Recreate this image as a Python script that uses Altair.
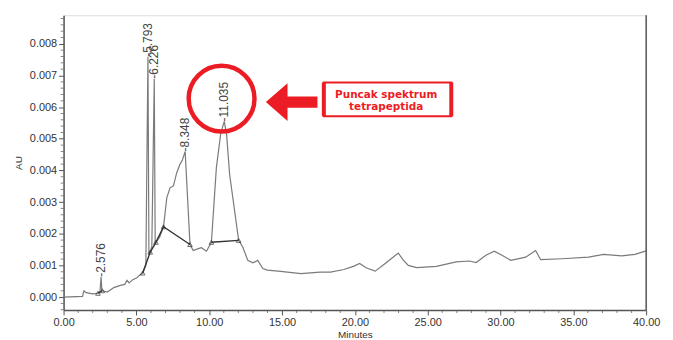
import altair as alt
import pandas as pd

# chromatogram trace (minutes, AU)
trace_t = [0.0, 1.3, 1.4, 1.55, 2.0, 2.36, 2.5, 2.576, 2.63, 2.66, 3.0, 3.45, 3.9, 4.2, 4.36, 4.5,
           4.75, 5.0, 5.2, 5.43, 5.65, 5.793, 5.86, 5.95, 6.06, 6.226, 6.29, 6.34, 6.6, 6.86,
           7.09, 7.31, 7.54, 7.77, 8.0, 8.15, 8.348, 8.68, 8.9, 9.25, 9.47, 9.81, 10.15, 10.49,
           10.8, 11.035, 11.2, 11.4, 12.02, 12.3, 12.65, 13.0, 13.33, 13.68, 14.0, 14.9, 16.3,
           17.6, 18.33, 19.24, 19.9, 20.33, 20.8, 21.4, 22.08, 22.6, 22.98, 23.3, 23.67, 24.24,
           25.6, 26.96, 27.87, 28.33, 29.0, 29.57, 30.1, 30.71, 31.73, 32.41, 32.76, 34.23,
           36.05, 37.07, 38.32, 39.23, 40.0]
trace_au = [0.0, 0.00002, 0.0002, 0.00014, 0.0001, 0.00012, 0.00018, 0.00064, 0.0002, 0.0002,
            0.00016, 0.0003, 0.00037, 0.0004, 0.00053, 0.00045, 0.00055, 0.0006, 0.00068, 0.00076,
            0.001, 0.00759, 0.0014, 0.00142, 0.0016, 0.0069, 0.0017, 0.00173, 0.0019, 0.00222,
            0.00314, 0.00345, 0.00351, 0.00393, 0.0042, 0.00432, 0.0046, 0.00166, 0.00147, 0.00153,
            0.00156, 0.00145, 0.00173, 0.00408, 0.0052, 0.00555, 0.0051, 0.00388, 0.00179, 0.00158,
            0.00116, 0.00108, 0.00116, 0.0009, 0.00085, 0.00081, 0.00074, 0.00079, 0.00079, 0.00087,
            0.00097, 0.00106, 0.00092, 0.00082, 0.00106, 0.00125, 0.00139, 0.00118, 0.001, 0.00093,
            0.00097, 0.00111, 0.00114, 0.00109, 0.00132, 0.00145, 0.00132, 0.00116, 0.00126, 0.00147,
            0.00118, 0.00121, 0.00126, 0.00135, 0.0013, 0.00135, 0.00146]

# integration baselines (dark segments with triangle markers)
base_t = [2.36, 2.66, 5.43, 5.95, 6.34, 6.86, 8.68, 10.15, 12.02]
base_au = [0.00012, 0.0002, 0.00076, 0.00142, 0.00173, 0.00222, 0.00166, 0.00173, 0.00179]
base_grp = ["a", "a", "b", "b", "b", "b", "b", "c", "c"]

# peak labels
peak_t = [2.576, 5.793, 6.226, 8.348, 11.035]
peak_au = [0.00064, 0.00759, 0.0069, 0.0046, 0.00555]
peak_lbl = ["2.576", "5.793", "6.226", "8.348", "11.035"]

# annotation (data coordinates)
circle_t, circle_au = [10.85], [0.00627]
arrow_t, arrow_au = [15.66], [0.00616]
box_t1, box_t2, box_au1, box_au2 = [17.87], [26.62], [0.00571], [0.00678]
note_lines = ["Puncak spektrum", "tetrapeptida"]
note_t = [22.15, 22.15]
note_au = [0.00639, 0.00599]

# axis ticks
x_major = [0, 5, 10, 15, 20, 25, 30, 35, 40]
x_minor = [v for v in range(0, 41) if v % 5 != 0]
y_major = [0.0, 0.001, 0.002, 0.003, 0.004, 0.005, 0.006, 0.007, 0.008]
y_minor = [round(-0.0004 + 0.0002 * i, 4) for i in range(47) if (i - 2) % 5 != 0]

RED = "#ec1c24"
AXC = "#555"

xs = alt.Scale(domain=[0, 40], nice=False, zero=False)
ys = alt.Scale(domain=[-0.000408, 0.008903], nice=False, zero=False)

x_axis = alt.Axis(values=x_major, format=".2f", title="Minutes", grid=False, tickSize=5,
                  labelFont="Liberation Sans", labelFontSize=11, labelColor="#333",
                  titleFont="Liberation Sans", titleFontSize=10, titleFontWeight="normal",
                  titleColor="#333", domainColor=AXC, domainWidth=1.5, tickColor=AXC,
                  labelPadding=2, titlePadding=2, labelFlush=False, labelOverlap=False)
y_axis = alt.Axis(values=y_major, format=".3f", title="AU", grid=False, tickSize=5,
                  labelFont="Liberation Sans", labelFontSize=11, labelColor="#333",
                  titleFont="Liberation Sans", titleFontSize=10, titleFontWeight="normal",
                  titleColor="#333", domainColor=AXC, domainWidth=1.5, tickColor=AXC,
                  labelPadding=2, titlePadding=6, labelFlush=False, labelOverlap=False)


def X(field):
    return alt.X(field, type="quantitative", scale=xs, axis=x_axis)


def Y(field):
    return alt.Y(field, type="quantitative", scale=ys, axis=y_axis)


trace_df = pd.DataFrame({"t": trace_t, "au": trace_au})
base_df = pd.DataFrame({"t": base_t, "au": base_au, "g": base_grp})
peak_df = pd.DataFrame({"t": peak_t, "au": peak_au, "lbl": ["-" + s for s in peak_lbl]})

trace = alt.Chart(trace_df).mark_line(color="#7a7a7a", strokeWidth=1.2).encode(
    x=X("t"), y=Y("au"))
base_line = alt.Chart(base_df).mark_line(color="#333", strokeWidth=1.4).encode(
    x=X("t"), y=Y("au"), detail="g:N")
base_pts = alt.Chart(base_df).mark_point(shape="triangle-up", size=22, color="#333",
                                         filled=False, strokeWidth=1).encode(x=X("t"), y=Y("au"))
labels = alt.Chart(peak_df).mark_text(angle=270, align="left", baseline="middle",
                                      font="Liberation Sans", fontSize=12, color="#444").encode(
    x=X("t"), y=Y("au"), text="lbl:N")

right_border = alt.Chart(pd.DataFrame({"t": [40]})).mark_rule(color=AXC, strokeWidth=1.5).encode(
    x=X("t"))

x_minor_ticks = alt.Chart(pd.DataFrame({"t": x_minor, "au": [-0.000408] * len(x_minor)})).mark_tick(
    orient="vertical", size=3, thickness=1, color=AXC, yOffset=1.5).encode(
    x=X("t"), y=Y("au"))
y_minor_ticks = alt.Chart(pd.DataFrame({"au": y_minor, "t": [0] * len(y_minor)})).mark_tick(
    orient="horizontal", size=3, thickness=1, color=AXC, xOffset=-1.5).encode(
    y=Y("au"), x=X("t"))

circle = alt.Chart(pd.DataFrame({"t": circle_t, "au": circle_au})).mark_point(
    shape="circle", size=4400, filled=False, color=RED, strokeWidth=4.5, opacity=1).encode(
    x=X("t"), y=Y("au"))
arrow = alt.Chart(pd.DataFrame({"t": arrow_t, "au": arrow_au})).mark_point(
    shape="M-1,0L-0.16,-0.73L-0.16,-0.22L1,-0.22L1,0.22L-0.16,0.22L-0.16,0.73Z",
    size=2704, filled=True, color=RED, opacity=1, strokeWidth=0).encode(x=X("t"), y=Y("au"))
box_df = pd.DataFrame({"t1": box_t1, "t2": box_t2, "a1": box_au1, "a2": box_au2})
box = alt.Chart(box_df).mark_rect(fill="white", stroke=RED, strokeWidth=2).encode(
    x=X("t1"), x2="t2:Q", y=Y("a1"), y2="a2:Q")
box_sides = alt.Chart(pd.DataFrame({"t": box_t1 + box_t2, "a1": box_au1 * 2, "a2": box_au2 * 2})).mark_rule(
    color=RED, strokeWidth=4).encode(x=X("t"), y=Y("a1"), y2="a2:Q")
note = alt.Chart(pd.DataFrame({"t": note_t, "au": note_au, "txt": note_lines})).mark_text(
    font="DejaVu Sans", fontWeight="bold", fontSize=10.5, color=RED, align="center",
    baseline="middle").encode(x=X("t"), y=Y("au"), text="txt:N")

chart = alt.layer(trace, base_line, base_pts, labels, right_border, x_minor_ticks, y_minor_ticks,
                  circle, arrow, box, box_sides, note).properties(
    width=587, height=297,
).configure_view(stroke=None).configure(background="white")

chart.save("out.html", embed_options={"renderer": "svg", "actions": False})
